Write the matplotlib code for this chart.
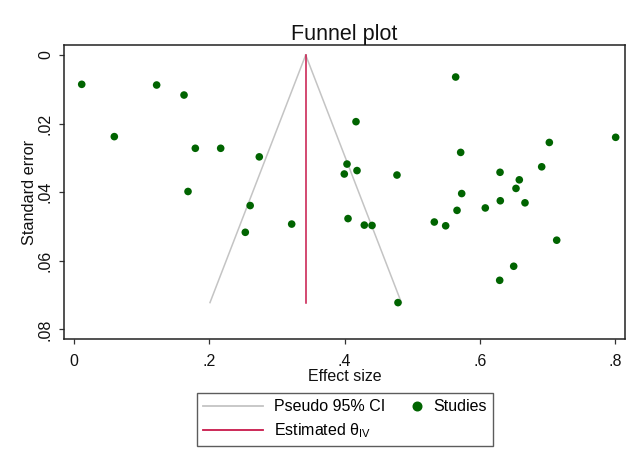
import numpy as np
import matplotlib
matplotlib.use("Agg")
import matplotlib.pyplot as plt
from matplotlib.lines import Line2D
from matplotlib.legend_handler import HandlerLine2D

plt.rcParams['font.family'] = ['Liberation Sans', 'DejaVu Sans']
plt.rcParams['mathtext.fontset'] = 'custom'
plt.rcParams['mathtext.rm'] = 'Liberation Sans'

# Study data (effect size, standard error)
effect_size = [0.0114, 0.0596, 0.1222, 0.1627, 0.1794, 0.2169, 0.2740, 0.1686,
               0.4170, 0.4037, 0.3997, 0.4185, 0.4776,
               0.5644, 0.8010, 0.7029, 0.5718, 0.6916, 0.6300, 0.6585, 0.6536, 0.5733,
               0.6304, 0.6669, 0.5664, 0.6082, 0.5496, 0.7138, 0.6502, 0.6295,
               0.2605, 0.3219, 0.4052, 0.4293, 0.4407, 0.4791, 0.5328, 0.2533]
std_error = [0.00855, 0.0238, 0.00875, 0.01167, 0.0272, 0.0272, 0.0297, 0.0398,
             0.01944, 0.0318, 0.0347, 0.0337, 0.0350,
             0.00642, 0.0240, 0.0255, 0.0284, 0.0326, 0.0342, 0.0364, 0.0389, 0.0404,
             0.0425, 0.0431, 0.0453, 0.0446, 0.0498, 0.0540, 0.0616, 0.0657,
             0.0439, 0.0493, 0.0477, 0.0496, 0.0497, 0.0722, 0.0487, 0.0517]
theta_iv = 0.3426
se_max = 0.0722

x_ticks = [0, 0.2, 0.4, 0.6, 0.8]
x_ticklabels = ['0', '.2', '.4', '.6', '.8']
y_ticks = [0, 0.02, 0.04, 0.06, 0.08]
y_ticklabels = ['0', '.02', '.04', '.06', '.08']


class RightMarkerHandler(HandlerLine2D):
    """Place the single legend marker near the right end of the handle box."""
    def get_xdata(self, legend, xdescent, ydescent, width, height, fontsize):
        m = -xdescent + width - 3.0
        xdata = np.array([m - 1.0, m + 1.0])
        return xdata, np.array([m])


W, H = 643, 468
fig = plt.figure(figsize=(W / 100, H / 100), dpi=100)
left, right, top, bottom = 64, 625, 45.3, 339.3
ax = fig.add_axes([left / W, 1 - bottom / H, (right - left) / W, (bottom - top) / H])

# pseudo 95% CI funnel
se_line = np.array([0.0, se_max])
ax.plot(theta_iv - 1.96 * se_line, se_line, color='#c4c4c4', lw=1.1, zorder=2)
ax.plot(theta_iv + 1.96 * se_line, se_line, color='#c4c4c4', lw=1.1, zorder=2)
# estimated theta
ax.plot([theta_iv, theta_iv], [0, se_max], color='#c8184a', lw=1.1, zorder=2)
# studies
ax.scatter(effect_size, std_error, s=30, color='#006400', edgecolors='none', zorder=3)

ax.set_xlim(-0.0148, 0.8148)
ax.set_ylim(0.0829, -0.00283)
ax.set_xticks(x_ticks)
ax.set_xticklabels(x_ticklabels)
ax.set_yticks(y_ticks)
ax.set_yticklabels(y_ticklabels, rotation=90, va='center')
ax.tick_params(axis='both', direction='out', length=3.5, width=0.9, labelsize=11.5,
               color='#333333', labelcolor='#111111')
ax.tick_params(axis='x', pad=7)
ax.tick_params(axis='y', pad=4.5)
for sp in ax.spines.values():
    sp.set_linewidth(1.1)
    sp.set_color('#222222')

ax.set_title('Funnel plot', fontsize=15.5, pad=2.5, color='#111111')
ax.set_xlabel('Effect size', fontsize=11.5, color='#111111')
ax.xaxis.set_label_coords(0.5, -(369.0 - bottom) / (bottom - top))
ax.set_ylabel('Standard error', fontsize=11.7, labelpad=1, color='#111111')

handles = [Line2D([], [], color='#c4c4c4', lw=1.3),
           Line2D([], [], color='#c8184a', lw=1.3),
           Line2D([], [], color='#006400', marker='o', ls='none', markersize=6.2)]
labels = ['Pseudo 95% CI', r'Estimated θ$_{\mathrm{IV}}$', 'Studies']
leg = fig.legend(handles, labels, ncol=2, loc='upper left',
                 bbox_to_anchor=(197 / W, 1 - 393 / H), borderaxespad=0,
                 fontsize=11.5, frameon=True, fancybox=False, edgecolor='#333333',
                 handlelength=3.75, handletextpad=0.7, columnspacing=-1.5,
                 labelspacing=0.42, borderpad=0.4,
                 handler_map={handles[2]: RightMarkerHandler(numpoints=1)})
leg.get_frame().set_linewidth(1.0)

fig.savefig('out.png', dpi=100)
